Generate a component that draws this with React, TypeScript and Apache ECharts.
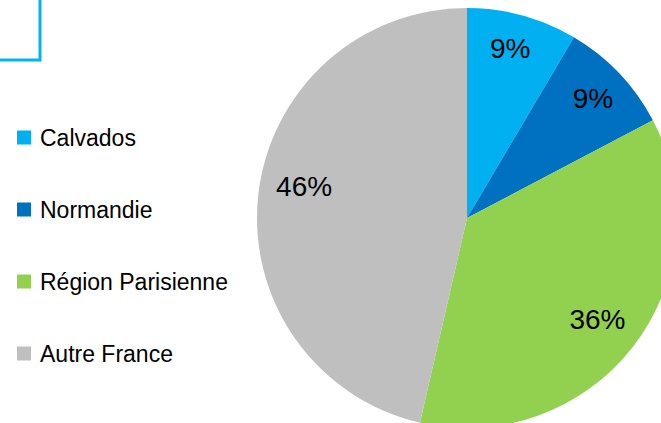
import React, { useEffect, useRef } from "react";
import * as echarts from "echarts";

const categories = ["Calvados", "Normandie", "Région Parisienne", "Autre France"];
const values = [8.5, 8.8, 36.3, 46.4];
const colors = ["#00B0F0", "#0070C0", "#92D050", "#BFBFBF"];
const labelNudges = [
  [-2, -5],
  [2, -2],
  [-5, -3],
  [7, -12],
];

export default function App() {
  const ref = useRef<HTMLDivElement>(null);
  useEffect(() => {
    if (!ref.current) return;
    const chart = echarts.init(ref.current, undefined, { renderer: "svg" });
    const data = categories.map((name, i) => ({ name, value: values[i], itemStyle: { color: colors[i] } }));
    const labelData = categories.map((name, i) => ({ name, value: values[i] }));
    chart.setOption({
      animation: false,
      backgroundColor: "#ffffff",
      color: colors,
      legend: {
        orient: "vertical",
        left: 17,
        top: 126,
        padding: 0,
        itemWidth: 14,
        itemHeight: 14,
        itemGap: 49,
        icon: "rect",
        data: categories,
        textStyle: {
          fontFamily: "Liberation Sans",
          fontSize: 23,
          color: "#000",
          padding: [0, 0, 0, 4],
        },
      },
      graphic: [
        {
          type: "rect",
          shape: { x: -100, y: -100, width: 140, height: 160 },
          style: { fill: "none", stroke: "#00B4F0", lineWidth: 3 },
          silent: true,
        },
      ],
      series: [
        {
          type: "pie",
          name: "main",
          center: [467, 218],
          radius: [0, 210],
          startAngle: 90,
          clockwise: true,
          label: { show: false },
          labelLine: { show: false },
          emphasis: { disabled: true },
          data,
        },
        {
          type: "pie",
          name: "labels",
          center: [467, 218],
          radius: [126, 210],
          startAngle: 90,
          clockwise: true,
          silent: true,
          itemStyle: { color: "rgba(0,0,0,0)" },
          label: {
            show: true,
            position: "inside",
            formatter: (p: any) => Math.round(p.percent) + "%",
            fontFamily: "Liberation Sans",
            fontSize: 28,
            color: "#000",
          },
          labelLayout: (p: any) => ({
            dx: labelNudges[p.dataIndex][0],
            dy: labelNudges[p.dataIndex][1],
          }),
          labelLine: { show: false },
          emphasis: { disabled: true },
          legendHoverLink: false,
          data: labelData,
        },
      ],
    });
    return () => chart.dispose();
  }, []);
  return (
    <div
      ref={ref}
      style={{ position: "fixed", left: 0, top: 0, width: 661, height: 423 }}
    />
  );
}
